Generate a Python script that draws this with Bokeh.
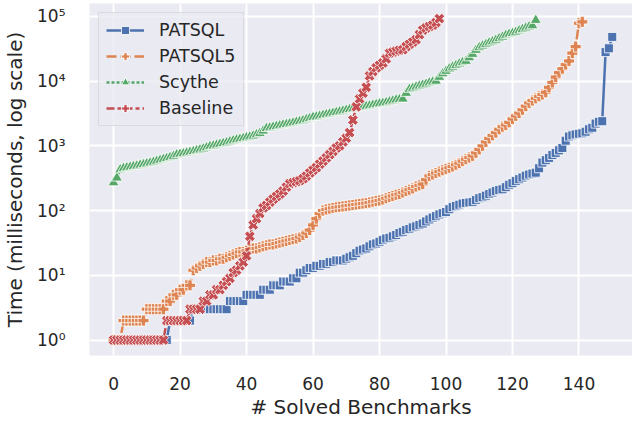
from bokeh.plotting import figure
from bokeh.models import FixedTicker, CustomJSTickFormatter, Range1d, Legend, LegendItem
from bokeh.embed import file_html
from bokeh.resources import INLINE

# ---- data (sorted solve times in milliseconds) ----
patsql = [
    1, 1, 1, 1, 1, 1, 1, 1, 1, 1, 1, 1, 1, 1, 1, 1, 1,
    2, 2, 2, 2, 2, 2, 2,
    3, 3, 3, 3, 3, 3, 3, 3, 3, 3, 3,
    4, 4, 4, 4, 4,
    5, 5, 5, 5, 5,
    6, 6, 6,
    7, 7, 7,
    8, 8, 8,
    9, 9,
    11, 11, 12, 13, 13, 14, 14, 15, 15, 16,
    16, 17, 17, 17, 18, 19, 20, 22, 24, 25,
    26, 28, 30, 31, 33, 35, 37, 38, 40, 42,
    45, 47, 50, 52, 55, 57, 60, 63, 68, 73,
    78, 82, 87, 91, 95,
    105, 113, 118, 123, 128, 131, 133, 136, 145, 155,
    161, 170, 180, 190, 200, 208, 213, 230, 250, 265,
    285, 305, 324, 345, 360, 372, 385, 450, 550, 600,
    650, 720, 777, 850, 925, 1200, 1390, 1450, 1500, 1530,
    1560, 1650, 1800, 1900, 2200, 2350, 2400, 28000, 32000, 48000,
]

patsql5 = [
    1, 1, 1,
    2, 2, 2, 2, 2, 2, 2,
    3, 3, 3, 3, 3, 3,
    4, 4, 5, 5, 6, 6, 7, 7,
    12, 13, 14, 15, 16, 16, 17, 17, 18, 18,
    19, 20, 21, 22, 23, 23, 24, 25, 26, 26,
    27, 28, 29, 30, 30, 31, 32, 33, 34, 35,
    36, 37, 39, 42, 45, 50, 60, 75, 90, 100,
    104, 107, 110, 112, 114, 116, 118, 120, 122, 124,
    126, 128, 130, 133, 137, 140, 143, 148, 155, 162,
    168, 175, 180, 190, 200, 210, 220, 235, 245, 256,
    300, 343, 360, 380, 400, 420, 440, 458, 480, 510,
    540, 580, 620, 660, 700, 780, 880, 1000, 1150, 1300,
    1450, 1600, 1800, 1970, 2100, 2300, 2600, 2900, 3200, 3600,
    4100, 4600, 5000, 5400, 5800, 6200, 6700, 8000, 9500, 11500,
    13500, 15500, 18000, 20400, 27000, 34000, 78000, 82000,
]

scythe = [
    270, 320, 430, 450, 460, 470, 480, 490, 505, 515,
    530, 545, 560, 580, 600, 620, 640, 665, 690, 730,
    745, 760, 780, 800, 820, 845, 870, 900, 940, 980,
    1000, 1030, 1060, 1090, 1120, 1160, 1200, 1240, 1270, 1300,
    1340, 1380, 1420, 1490, 1560, 1700, 1860, 1900, 1950, 2000,
    2050, 2100, 2150, 2200, 2260, 2320, 2380, 2450, 2550, 2650,
    2750, 2800, 2880, 2960, 3040, 3120, 3200, 3280, 3360, 3450,
    3550, 3650, 3730, 3800, 3880, 3960, 4050, 4150, 4250, 4350,
    4460, 4550, 4650, 4800, 4950, 5100, 5200, 5300, 6500, 7500,
    7800, 8100, 8400, 8700, 9000, 9400, 9700, 10000, 11500, 13000,
    14200, 15500, 16500, 17500, 18500, 19500, 20300, 23000, 26000, 30000,
    33000, 35000, 37000, 39000, 40700, 43000, 45500, 48000, 51000, 53000,
    54600, 57000, 60000, 63000, 66000, 69000, 72000, 87000,
]

baseline = [
    1, 1, 1, 1, 1, 1, 1, 1, 1, 1, 1, 1, 1, 1, 1, 1,
    2, 2, 2, 2, 2, 2, 2,
    3, 3, 3, 3,
    4, 4, 5, 5, 6, 6, 7, 8, 9, 11, 12, 14, 16,
    20, 40, 60, 75, 90, 110, 120, 135, 150, 165,
    180, 200, 230, 260, 270, 280, 290, 310, 340, 380,
    420, 460, 520, 580, 650, 730, 820, 925, 1000, 1150,
    1310, 1600, 2500, 4000, 5300, 6500, 8000, 12000, 14000, 16000,
    17500, 19000, 22000, 27000, 28000, 29000, 30000, 30400, 34000, 37000,
    40000, 43500, 52000, 61000, 66000, 70000, 73000, 80000, 92000,
]

labels = ["PATSQL", "PATSQL5", "Scythe", "Baseline"]
x_ticks = [0, 20, 40, 60, 80, 100, 120, 140]
y_ticks = [1, 10, 100, 1000, 10000, 100000]

# ---- styling ----
colors = ["#4C72B0", "#DD8452", "#55A868", "#C44E52"]
dashes = ["solid", "10 4", "3 2", "8 3 4 3"]
markers = [("square", 9, 0.0), ("plus", 11, 0.0), ("triangle", 11, 0.0), ("plus", 11, 0.785398)]
TXT = "#262626"
FONT = "DejaVu Sans"

p = figure(width=632, height=421, output_backend="svg", toolbar_location=None,
           y_axis_type="log",
           x_range=Range1d(-7.24, 156.1), y_range=Range1d(0.578, 157500),
           min_border_left=84, min_border_right=0, min_border_top=3, min_border_bottom=60)
p.background_fill_color = "#EAEAF2"
p.border_fill_color = "white"
p.outline_line_color = None

p.xaxis.ticker = FixedTicker(ticks=x_ticks)
p.yaxis.ticker = FixedTicker(ticks=y_ticks)
p.yaxis.formatter = CustomJSTickFormatter(code="""
const sup = {"0":"\u2070","1":"\u00b9","2":"\u00b2","3":"\u00b3","4":"\u2074","5":"\u2075",
             "6":"\u2076","7":"\u2077","8":"\u2078","9":"\u2079","-":"\u207b"};
const e = Math.round(Math.log10(tick));
return "10" + String(e).split("").map(c => sup[c]).join("");
""")

for ax in (p.xaxis, p.yaxis):
    ax.axis_line_color = None
    ax.major_tick_line_color = None
    ax.minor_tick_line_color = None
    ax.major_label_text_font = FONT
    ax.major_label_text_font_size = "17px"
    ax.major_label_text_color = TXT
    ax.axis_label_text_font = FONT
    ax.axis_label_text_font_size = "20px"
    ax.axis_label_text_font_style = "normal"
    ax.axis_label_text_color = TXT

p.xaxis.axis_label = "# Solved Benchmarks"
p.yaxis.axis_label = "Time (milliseconds, log scale)"
p.xaxis.major_label_standoff = 15
p.xaxis.axis_label_standoff = 2
p.yaxis.major_label_standoff = 18
p.yaxis.axis_label_standoff = 7

p.xgrid.grid_line_color = "white"
p.ygrid.grid_line_color = "white"
p.xgrid.grid_line_width = 2
p.ygrid.grid_line_width = 2

items = []
for series, lab, col, dash, (mk, sz, ang) in zip(
        [patsql, patsql5, scythe, baseline], labels, colors, dashes, markers):
    xs = list(range(len(series)))
    ln = p.line(xs, series, line_color=col, line_width=2.5, line_dash=dash)
    sc = p.scatter(xs, series, marker=mk, size=sz, angle=ang, fill_color=col,
                   line_color="white", line_width=0.8)
    items.append(LegendItem(label=lab, renderers=[ln, sc]))

legend = Legend(items=items, location="top_left")
legend.background_fill_color = "#EAEAF2"
legend.background_fill_alpha = 0.8
legend.border_line_color = "#CCCCCC"
legend.border_line_width = 1
legend.label_text_font = FONT
legend.label_text_font_size = "17.5px"
legend.label_text_color = TXT
legend.glyph_width = 38
legend.glyph_height = 20
legend.label_height = 20
legend.label_standoff = 15
legend.spacing = 6
legend.padding = 7
legend.margin = 9
p.add_layout(legend)

open("out.html", "w").write(file_html(p, INLINE))
